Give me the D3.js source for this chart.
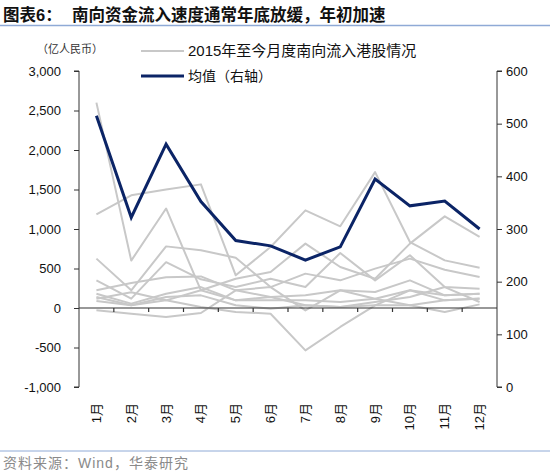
<!DOCTYPE html>
<html>
<head>
<meta charset="utf-8">
<script src="https://cdn.jsdelivr.net/npm/d3@7"></script>
<style>
  body { margin: 0; background: #fff; }
  svg { display: block; }
  text { font-family: "Liberation Sans", "Noto Sans CJK SC", sans-serif; }
</style>
</head>
<body>
<svg id="chart" width="550" height="472"></svg>
<script>
// 月份与刻度
const months = ["1月", "2月", "3月", "4月", "5月", "6月", "7月", "8月", "9月", "10月", "11月", "12月"];
const leftTicks = [-1000, -500, 0, 500, 1000, 1500, 2000, 2500, 3000];
const rightTicks = [0, 100, 200, 300, 400, 500, 600];

// 2015年至今各年月度南向流入（亿人民币，左轴）
const y2015 = [1186, 1426, 1500, 1565, 414, 772, 1236, 1034, 1720, 835, 603, 510];
const y2016 = [2600, 600, 1260, 224, 371, 455, 815, 519, 371, 815, 1160, 900];
const y2017 = [625, 224, 780, 730, 637, 265, 435, 350, 498, 625, 485, 392];
const y2018 = [350, 118, 580, 363, 265, 371, 265, 696, 350, 667, 265, 245];
const y2019 = [225, 316, 390, 400, 224, 140, 160, 224, 203, 350, 160, 180];
const y2020 = [180, 55, 180, 265, 97, 97, 97, 76, 118, 224, 97, 118];
const y2021 = [140, 34, 140, 160, 34, -8, 34, 13, 76, 140, 265, 76];
const y2022 = [118, 200, 97, 13, -50, -72, -536, -240, 34, 34, -50, 46];
const y2023 = [-30, -72, -114, -63, 224, 265, -30, 224, 118, 34, 97, 120];
const y2024 = [90, 34, 97, 224, 97, 140, 34, 13, 34, 224, 160, 180];
const grayLines = [y2015, y2016, y2017, y2018, y2019, y2020, y2021, y2022, y2023, y2024];

// 均值（右轴）
const meanValues = [515, 322, 461, 352, 278, 268, 241, 266, 395, 344, 353, 300];

const svg = d3.select("#chart");
const plotLeft = 79, plotRight = 497, plotTop = 71, plotBottom = 387;

const x = d3.scaleBand().domain(months).range([plotLeft, plotRight]).padding(0);
const cx = m => x(m) + x.bandwidth() / 2;
const yL = d3.scaleLinear().domain([-1000, 3000]).range([plotBottom, plotTop]);
const yR = d3.scaleLinear().domain([0, 600]).range([plotBottom, plotTop]);

const fmt = d3.formatLocale({ decimal: ".", thousands: ",", grouping: [3], currency: ["", ""], minus: "-" }).format(",");

// 标题
svg.append("text").attr("x", 3).attr("y", 21)
  .attr("font-size", 16.5).attr("font-weight", "bold").attr("fill", "#111")
  .text("图表6：");
svg.append("text").attr("x", 72).attr("y", 21)
  .attr("font-size", 16.5).attr("font-weight", "bold").attr("fill", "#111")
  .text("南向资金流入速度通常年底放缓，年初加速");
svg.append("line").attr("x1", 0).attr("x2", 550).attr("y1", 25.5).attr("y2", 25.5)
  .attr("stroke", "#8faad6").attr("stroke-width", 1.5);

// 单位
svg.append("text").attr("x", 37).attr("y", 53)
  .attr("font-size", 11).attr("fill", "#333")
  .text("（亿人民币）");

// 灰线
const lineL = d3.line().x((d, i) => cx(months[i])).y(d => yL(d));
svg.append("g").selectAll("path").data(grayLines).enter().append("path")
  .attr("d", lineL)
  .attr("fill", "none").attr("stroke", "#c8c8c8").attr("stroke-width", 2)
  .attr("stroke-linejoin", "round");

// 零线与刻度
svg.append("line").attr("x1", plotLeft).attr("x2", plotRight).attr("y1", yL(0)).attr("y2", yL(0))
  .attr("stroke", "#333").attr("stroke-width", 1.2);
svg.append("g").selectAll("line").data(months.slice(1)).enter().append("line")
  .attr("x1", d => x(d)).attr("x2", d => x(d))
  .attr("y1", yL(0)).attr("y2", yL(0) + 4)
  .attr("stroke", "#333").attr("stroke-width", 1.2);

// 均值线
const lineR = d3.line().x((d, i) => cx(months[i])).y(d => yR(d));
svg.append("path").datum(meanValues)
  .attr("d", lineR)
  .attr("fill", "none").attr("stroke", "#0b2466").attr("stroke-width", 3)
  .attr("stroke-linejoin", "miter");

// 左轴
const axL = svg.append("g").attr("transform", `translate(${plotLeft},0)`)
  .call(d3.axisLeft(yL).tickValues(leftTicks).tickFormat(fmt).tickSize(5).tickPadding(13));
axL.select(".domain").attr("stroke", "#333").attr("d", `M-5,${plotTop}H0V${plotBottom}H-5`);
axL.selectAll(".tick line").attr("stroke", "#333");
axL.selectAll(".tick text").attr("font-size", 13).attr("fill", "#111")
  .style("font-family", "'Liberation Sans', sans-serif");

// 右轴
const axR = svg.append("g").attr("transform", `translate(${plotRight},0)`)
  .call(d3.axisRight(yR).tickValues(rightTicks).tickSize(5).tickPadding(4));
axR.select(".domain").attr("stroke", "#333").attr("d", `M5,${plotTop}H0V${plotBottom}H5`);
axR.selectAll(".tick line").attr("stroke", "#333");
axR.selectAll(".tick text").attr("font-size", 13).attr("fill", "#111")
  .style("font-family", "'Liberation Sans', sans-serif");

// 月份标签（竖排）
svg.append("g").selectAll("text").data(months).enter().append("text")
  .attr("transform", d => `translate(${cx(d) + 4.5},403) rotate(-90)`)
  .attr("text-anchor", "end")
  .attr("font-size", 13).attr("fill", "#111")
  .text(d => d);

// 图例
svg.append("line").attr("x1", 141).attr("x2", 184).attr("y1", 51).attr("y2", 51)
  .attr("stroke", "#c8c8c8").attr("stroke-width", 2);
svg.append("text").attr("x", 188).attr("y", 56)
  .attr("font-size", 15).attr("fill", "#111")
  .text("2015年至今月度南向流入港股情况");
svg.append("line").attr("x1", 141).attr("x2", 184).attr("y1", 76).attr("y2", 76)
  .attr("stroke", "#0b2466").attr("stroke-width", 3);
svg.append("text").attr("x", 188).attr("y", 81)
  .attr("font-size", 14).attr("fill", "#111")
  .text("均值（右轴）");

// 资料来源
svg.append("line").attr("x1", 0).attr("x2", 550).attr("y1", 451).attr("y2", 451)
  .attr("stroke", "#8faad6").attr("stroke-width", 1);
svg.append("text").attr("x", 3).attr("y", 468)
  .attr("font-size", 14).attr("letter-spacing", 1).attr("fill", "#8a8a8a")
  .text("资料来源：Wind，华泰研究");
</script>
</body>
</html>
